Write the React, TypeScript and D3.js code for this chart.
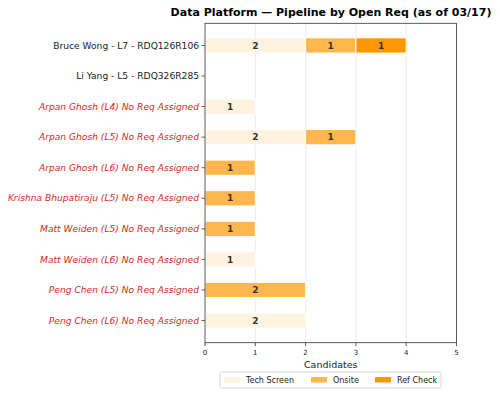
import React from "react";
import * as d3 from "d3";

const categories = [
  "Bruce Wong - L7 - RDQ126R106",
  "Li Yang - L5 - RDQ326R285",
  "Arpan Ghosh (L4) No Req Assigned",
  "Arpan Ghosh (L5) No Req Assigned",
  "Arpan Ghosh (L6) No Req Assigned",
  "Krishna Bhupatiraju (L5) No Req Assigned",
  "Matt Weiden (L5) No Req Assigned",
  "Matt Weiden (L6) No Req Assigned",
  "Peng Chen (L5) No Req Assigned",
  "Peng Chen (L6) No Req Assigned",
];
const hasReq = [true, true, false, false, false, false, false, false, false, false];
const techScreen = [2, 0, 1, 2, 0, 0, 0, 1, 0, 2];
const onsite = [1, 0, 0, 1, 1, 1, 1, 0, 2, 0];
const refCheck = [1, 0, 0, 0, 0, 0, 0, 0, 0, 0];
const seriesNames = ["Tech Screen", "Onsite", "Ref Check"];
const seriesColors = ["#FFF3E0", "#FFB74D", "#FF9800"];
const xTicks = [0, 1, 2, 3, 4, 5];

export default function App() {
  const W = 500, H = 395;
  const left = 205, right = 456.5, top = 23.3, bottom = 342.7;
  const x = d3.scaleLinear().domain([0, 5]).range([left, right]);
  const y = d3.scaleLinear().domain([-0.725, 9.725]).range([top, bottom]);
  const series = [techScreen, onsite, refCheck];
  const barH = y(0.25) - y(-0.25);
  const font = "DejaVu Sans, sans-serif";

  const bars: React.ReactNode[] = [];
  categories.forEach((_, i) => {
    let acc = 0;
    series.forEach((s, k) => {
      const v = s[i];
      if (v > 0) {
        const x0 = x(acc), x1 = x(acc + v);
        bars.push(
          <g key={`${i}-${k}`}>
            <rect x={x0} y={y(i) - barH / 2} width={x1 - x0} height={barH}
              fill={seriesColors[k]} stroke="white" strokeWidth={1} />
            <text x={(x0 + x1) / 2} y={y(i)} dy="0.35em" textAnchor="middle"
              fontSize={9} fontWeight="bold" fill="#333">{v}</text>
          </g>
        );
      }
      acc += v;
    });
  });

  const legendX = 220, legendY = 372;
  const legendItems = [
    { name: seriesNames[0], px: 224, tx: 246 },
    { name: seriesNames[1], px: 311, tx: 333 },
    { name: seriesNames[2], px: 375, tx: 397 },
  ];

  return (
    <svg width={W} height={H} style={{ position: "absolute", left: 0, top: 0 }} fontFamily={font}>
      <rect width={W} height={H} fill="white" />
      <text x={331} y={16} textAnchor="middle" fontSize={11} fontWeight="bold" fill="#000">
        Data Platform — Pipeline by Open Req (as of 03/17)
      </text>
      {xTicks.slice(1, -1).map((t) => (
        <line key={t} x1={x(t)} x2={x(t)} y1={top} y2={bottom} stroke="#e6e6e6" strokeWidth={0.8} />
      ))}
      {bars}
      <rect x={left} y={top} width={right - left} height={bottom - top} fill="none" stroke="#333" strokeWidth={0.8} />
      {xTicks.map((t) => (
        <g key={t}>
          <line x1={x(t)} x2={x(t)} y1={bottom} y2={bottom + 3.5} stroke="#333" strokeWidth={0.8} />
          <text x={x(t)} y={bottom + 12} textAnchor="middle" fontSize={7} fill="#222">{t}</text>
        </g>
      ))}
      <text x={(left + right) / 2} y={368} textAnchor="middle" fontSize={9.5} fill="#222">Candidates</text>
      {categories.map((c, i) => (
        <g key={c}>
          <line x1={left - 3.5} x2={left} y1={y(i)} y2={y(i)} stroke="#333" strokeWidth={0.8} />
          <text x={left - 6} y={y(i)} dy="0.35em" textAnchor="end" fontSize={9.15}
            fill={hasReq[i] ? "#222" : "#d62728"} fontStyle={hasReq[i] ? "normal" : "italic"}>{c}</text>
        </g>
      ))}
      <rect x={legendX} y={legendY} width={221} height={16} rx={2} fill="white" stroke="#ccc" strokeWidth={0.8} />
      {legendItems.map((it, k) => (
        <g key={it.name}>
          <rect x={it.px} y={legendY + 5} width={16} height={5.5} fill={seriesColors[k]} />
          <text x={it.tx} y={legendY + 8} dy="0.35em" fontSize={8} fill="#222">{it.name}</text>
        </g>
      ))}
    </svg>
  );
}
